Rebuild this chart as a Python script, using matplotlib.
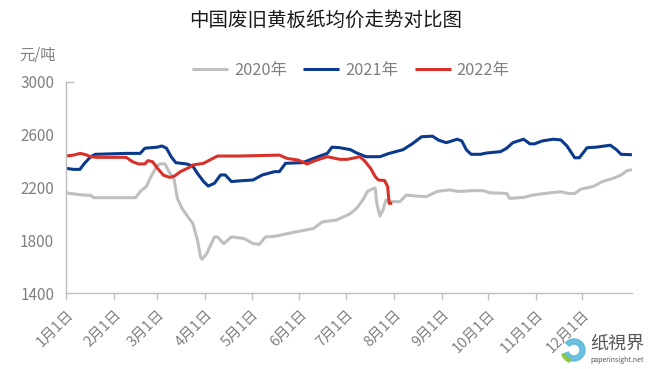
import matplotlib
matplotlib.use("Agg")
import matplotlib.pyplot as plt
from matplotlib.patches import Wedge

plt.rcParams['font.family'] = ['Noto Sans CJK SC', 'DejaVu Sans']

title = "中国废旧黄板纸均价走势对比图"
unit = "元/吨"
month_labels = ["1月1日", "2月1日", "3月1日", "4月1日", "5月1日", "6月1日",
                "7月1日", "8月1日", "9月1日", "10月1日", "11月1日", "12月1日"]
month_days = [0, 31, 59, 90, 120, 151, 181, 212, 243, 273, 304, 334]
series_names = ["2020年", "2021年", "2022年"]

# day of year -> price (yuan/ton)
days_2020 = [0, 9, 16, 18, 30, 45, 48, 52, 55, 59, 61, 64, 66, 70, 72, 75, 78, 82, 85,
             87, 88, 91, 96, 98, 102, 107, 115, 121, 125, 129, 135, 143, 151, 160, 166,
             175, 182, 184, 188, 192, 195, 199, 200, 201, 203, 205, 207, 211, 216, 220,
             227, 233, 240, 248, 254, 263, 270, 274, 285, 287, 296, 302, 313, 320, 325,
             329, 333, 341, 347, 354, 359, 363, 366]
vals_2020 = [2160, 2145, 2140, 2123, 2123, 2123, 2170, 2208, 2284, 2364, 2379, 2379, 2333,
             2257, 2118, 2043, 1992, 1929, 1803, 1677, 1657, 1700, 1826, 1826, 1776, 1826,
             1815, 1776, 1770, 1826, 1831, 1851, 1870, 1890, 1941, 1954, 1992, 2004, 2043,
             2106, 2170, 2195, 2195, 2080, 1985, 2030, 2106, 2093, 2093, 2143, 2135, 2131,
             2170, 2182, 2170, 2176, 2176, 2160, 2155, 2118, 2125, 2143, 2160, 2168, 2155,
             2155, 2188, 2208, 2245, 2270, 2295, 2328, 2335]

days_2021 = [0, 5, 9, 12, 16, 19, 39, 48, 51, 59, 62, 65, 68, 71, 78, 82, 85, 89, 92, 96,
             100, 103, 107, 112, 121, 127, 135, 138, 142, 153, 160, 169, 172, 177, 184,
             188, 194, 203, 209, 218, 224, 230, 237, 241, 246, 253, 256, 259, 262, 268,
             272, 281, 285, 289, 296, 300, 303, 308, 315, 320, 324, 329, 332, 337, 343,
             352, 356, 359, 366]
vals_2021 = [2345, 2337, 2337, 2383, 2433, 2451, 2458, 2458, 2497, 2505, 2514, 2497, 2433,
             2388, 2378, 2362, 2307, 2245, 2211, 2232, 2295, 2295, 2245, 2250, 2257, 2295,
             2320, 2320, 2383, 2388, 2420, 2458, 2505, 2501, 2486, 2461, 2433, 2433, 2458,
             2486, 2531, 2584, 2588, 2558, 2539, 2565, 2552, 2484, 2451, 2451, 2461, 2471,
             2497, 2539, 2565, 2530, 2530, 2552, 2565, 2560, 2514, 2425, 2425, 2501, 2505,
             2520, 2486, 2451, 2448]

days_2022 = [0, 5, 9, 12, 16, 20, 39, 43, 47, 51, 53, 56, 59, 63, 67, 70, 74, 80, 82, 89,
             93, 98, 112, 138, 143, 150, 156, 161, 169, 177, 182, 187, 190, 193, 197, 200,
             202, 206, 208, 209, 211]
vals_2022 = [2438, 2445, 2458, 2451, 2433, 2428, 2428, 2395, 2378, 2378, 2403, 2395, 2348,
             2293, 2277, 2285, 2320, 2353, 2370, 2383, 2408, 2438, 2438, 2445, 2420, 2408,
             2378, 2403, 2433, 2413, 2413, 2425, 2433, 2403, 2345, 2282, 2257, 2253, 2208,
             2080, 2080]

y_ticks = [1400, 1800, 2200, 2600, 3000]

colors = ["#bfbfbf", "#0b3a8c", "#d8312a"]
tick_color = "#808080"
axis_color = "#bfbfbf"

fig = plt.figure(figsize=(6.52, 3.69), dpi=100)
ax = fig.add_axes([0.1012, 0.2051, 0.8680, 0.5735])

for d, v, c, n in zip([days_2020, days_2021, days_2022],
                      [vals_2020, vals_2021, vals_2022], colors, series_names):
    ax.plot(d, v, color=c, lw=2.2, label=n, solid_joinstyle='round', solid_capstyle='butt')

ax.set_xlim(0, 366)
ax.set_ylim(1400, 3000)
ax.set_yticks(y_ticks)
ax.set_yticklabels([str(t) for t in y_ticks])
ax.set_xticks(month_days)
ax.set_xticklabels(month_labels, rotation=45, ha='right', va='top', rotation_mode='anchor')

for s in ['top', 'right']:
    ax.spines[s].set_visible(False)
for s in ['left', 'bottom']:
    ax.spines[s].set_color(axis_color)
    ax.spines[s].set_linewidth(1.0)

ax.tick_params(axis='y', length=0, pad=8.5, labelsize=11, labelcolor=tick_color)
ax.tick_params(axis='x', length=5, width=1.0, color=axis_color, pad=5,
               labelsize=10.5, labelcolor=tick_color, direction='out')
ax.plot([0, 0.012], [1, 1], transform=ax.transAxes, color=axis_color, lw=1.0, clip_on=False)

fig.text(0.5, 0.945, title, ha='center', va='center', fontsize=14, color='#1a1a1a')
fig.text(0.03, 0.851, unit, ha='left', va='center', fontsize=11, color=tick_color)

leg = fig.legend(loc='center', bbox_to_anchor=(0.538, 0.81), ncol=3, frameon=False,
                 fontsize=11.8, handlelength=2.2, handletextpad=0.35, columnspacing=1.0)
for t in leg.get_texts():
    t.set_color(tick_color)

# watermark logo
fig.add_artist(Wedge((574, 19), 11, 200, 140, width=5, color="#5bb8dc", transform=None, alpha=0.9))
fig.add_artist(Wedge((574, 19), 13, 200, 250, width=3, color="#8cc63f", transform=None, alpha=0.9))
fig.text(0.905, 0.068, "纸視界", ha='left', va='center', fontsize=13, color='#555555')
fig.text(0.905, 0.025, "paperinsight.net", ha='left', va='center', fontsize=5, color='#555555')

fig.savefig("out.png", dpi=100)
